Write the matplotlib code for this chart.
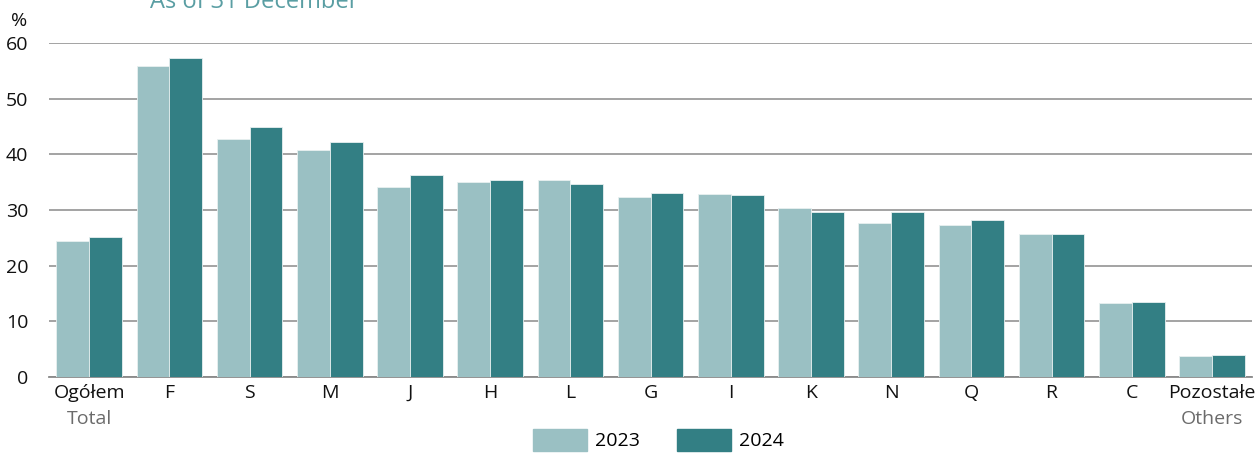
import numpy as np
import matplotlib
matplotlib.use("Agg")
import matplotlib.pyplot as plt
import matplotlib.patches as patches
import matplotlib.transforms as mtransforms

plt.rcParams['font.family'] = ['Open Sans', 'DejaVu Sans']

categories = ["Ogółem", "F", "S", "M", "J", "H", "L", "G", "I", "K", "N", "Q", "R", "C", "Pozostałe"]
subtitles = {0: "Total", 14: "Others"}
v2023 = [24.5, 55.9, 42.8, 40.8, 34.1, 35.1, 35.4, 32.3, 32.8, 30.3, 27.7, 27.3, 25.7, 13.3, 3.7]
v2024 = [25.2, 57.3, 44.9, 42.3, 36.2, 35.4, 34.6, 33.1, 32.6, 29.7, 29.6, 28.2, 25.6, 13.5, 3.9]

c23 = "#9ac0c3"
c24 = "#337f84"

fig = plt.figure(figsize=(12.59, 4.53), dpi=100)
ax = fig.add_axes([0.039, 0.168, 0.9555, 0.737])

x = np.arange(len(categories))
w = 0.41
ax.bar(x - w/2, v2023, w, color=c23, edgecolor="#e8f0f0", linewidth=0.6, zorder=3)
ax.bar(x + w/2, v2024, w, color=c24, edgecolor="#e8f0f0", linewidth=0.6, zorder=3)

ax.set_xlim(-0.5, len(categories) - 0.5)
ax.set_ylim(0, 60)
ax.set_yticks(range(0, 61, 10))
ax.yaxis.grid(True, color="#8a8a8a", linewidth=1.1, zorder=0)
for s in ["top", "right", "left"]:
    ax.spines[s].set_visible(False)
ax.spines["bottom"].set_color("#8a8a8a")
ax.spines["bottom"].set_linewidth(1.3)
ax.tick_params(axis="both", length=0, labelsize=14, colors="#111111")
ax.tick_params(axis="y", pad=15)
ax.set_xticks(x)
ax.set_xticklabels(categories)
ax.tick_params(axis="x", pad=5)

trans = mtransforms.blended_transform_factory(ax.transData, ax.transAxes)
for i, t in subtitles.items():
    ax.text(i, -0.098, t, transform=trans, ha="center", va="top", fontsize=14, color="#6b6b6b")

fig.text(0.009, 0.942, "%", fontsize=14, color="#111111", va="baseline")
fig.text(0.119, 0.982, "As of 31 December", fontsize=17, color="#5a9ea3", va="baseline")

h1 = patches.Patch(color=c23, label="2023")
h2 = patches.Patch(color=c24, label="2024")
fig.legend(handles=[h1, h2], loc="upper center", bbox_to_anchor=(0.523, 1 - 429/453), ncol=2,
           frameon=False, fontsize=14, handlelength=2.8, handleheight=1.35,
           columnspacing=1.9, handletextpad=0.4, borderpad=0, borderaxespad=0)

plt.savefig("out.png", dpi=100)
